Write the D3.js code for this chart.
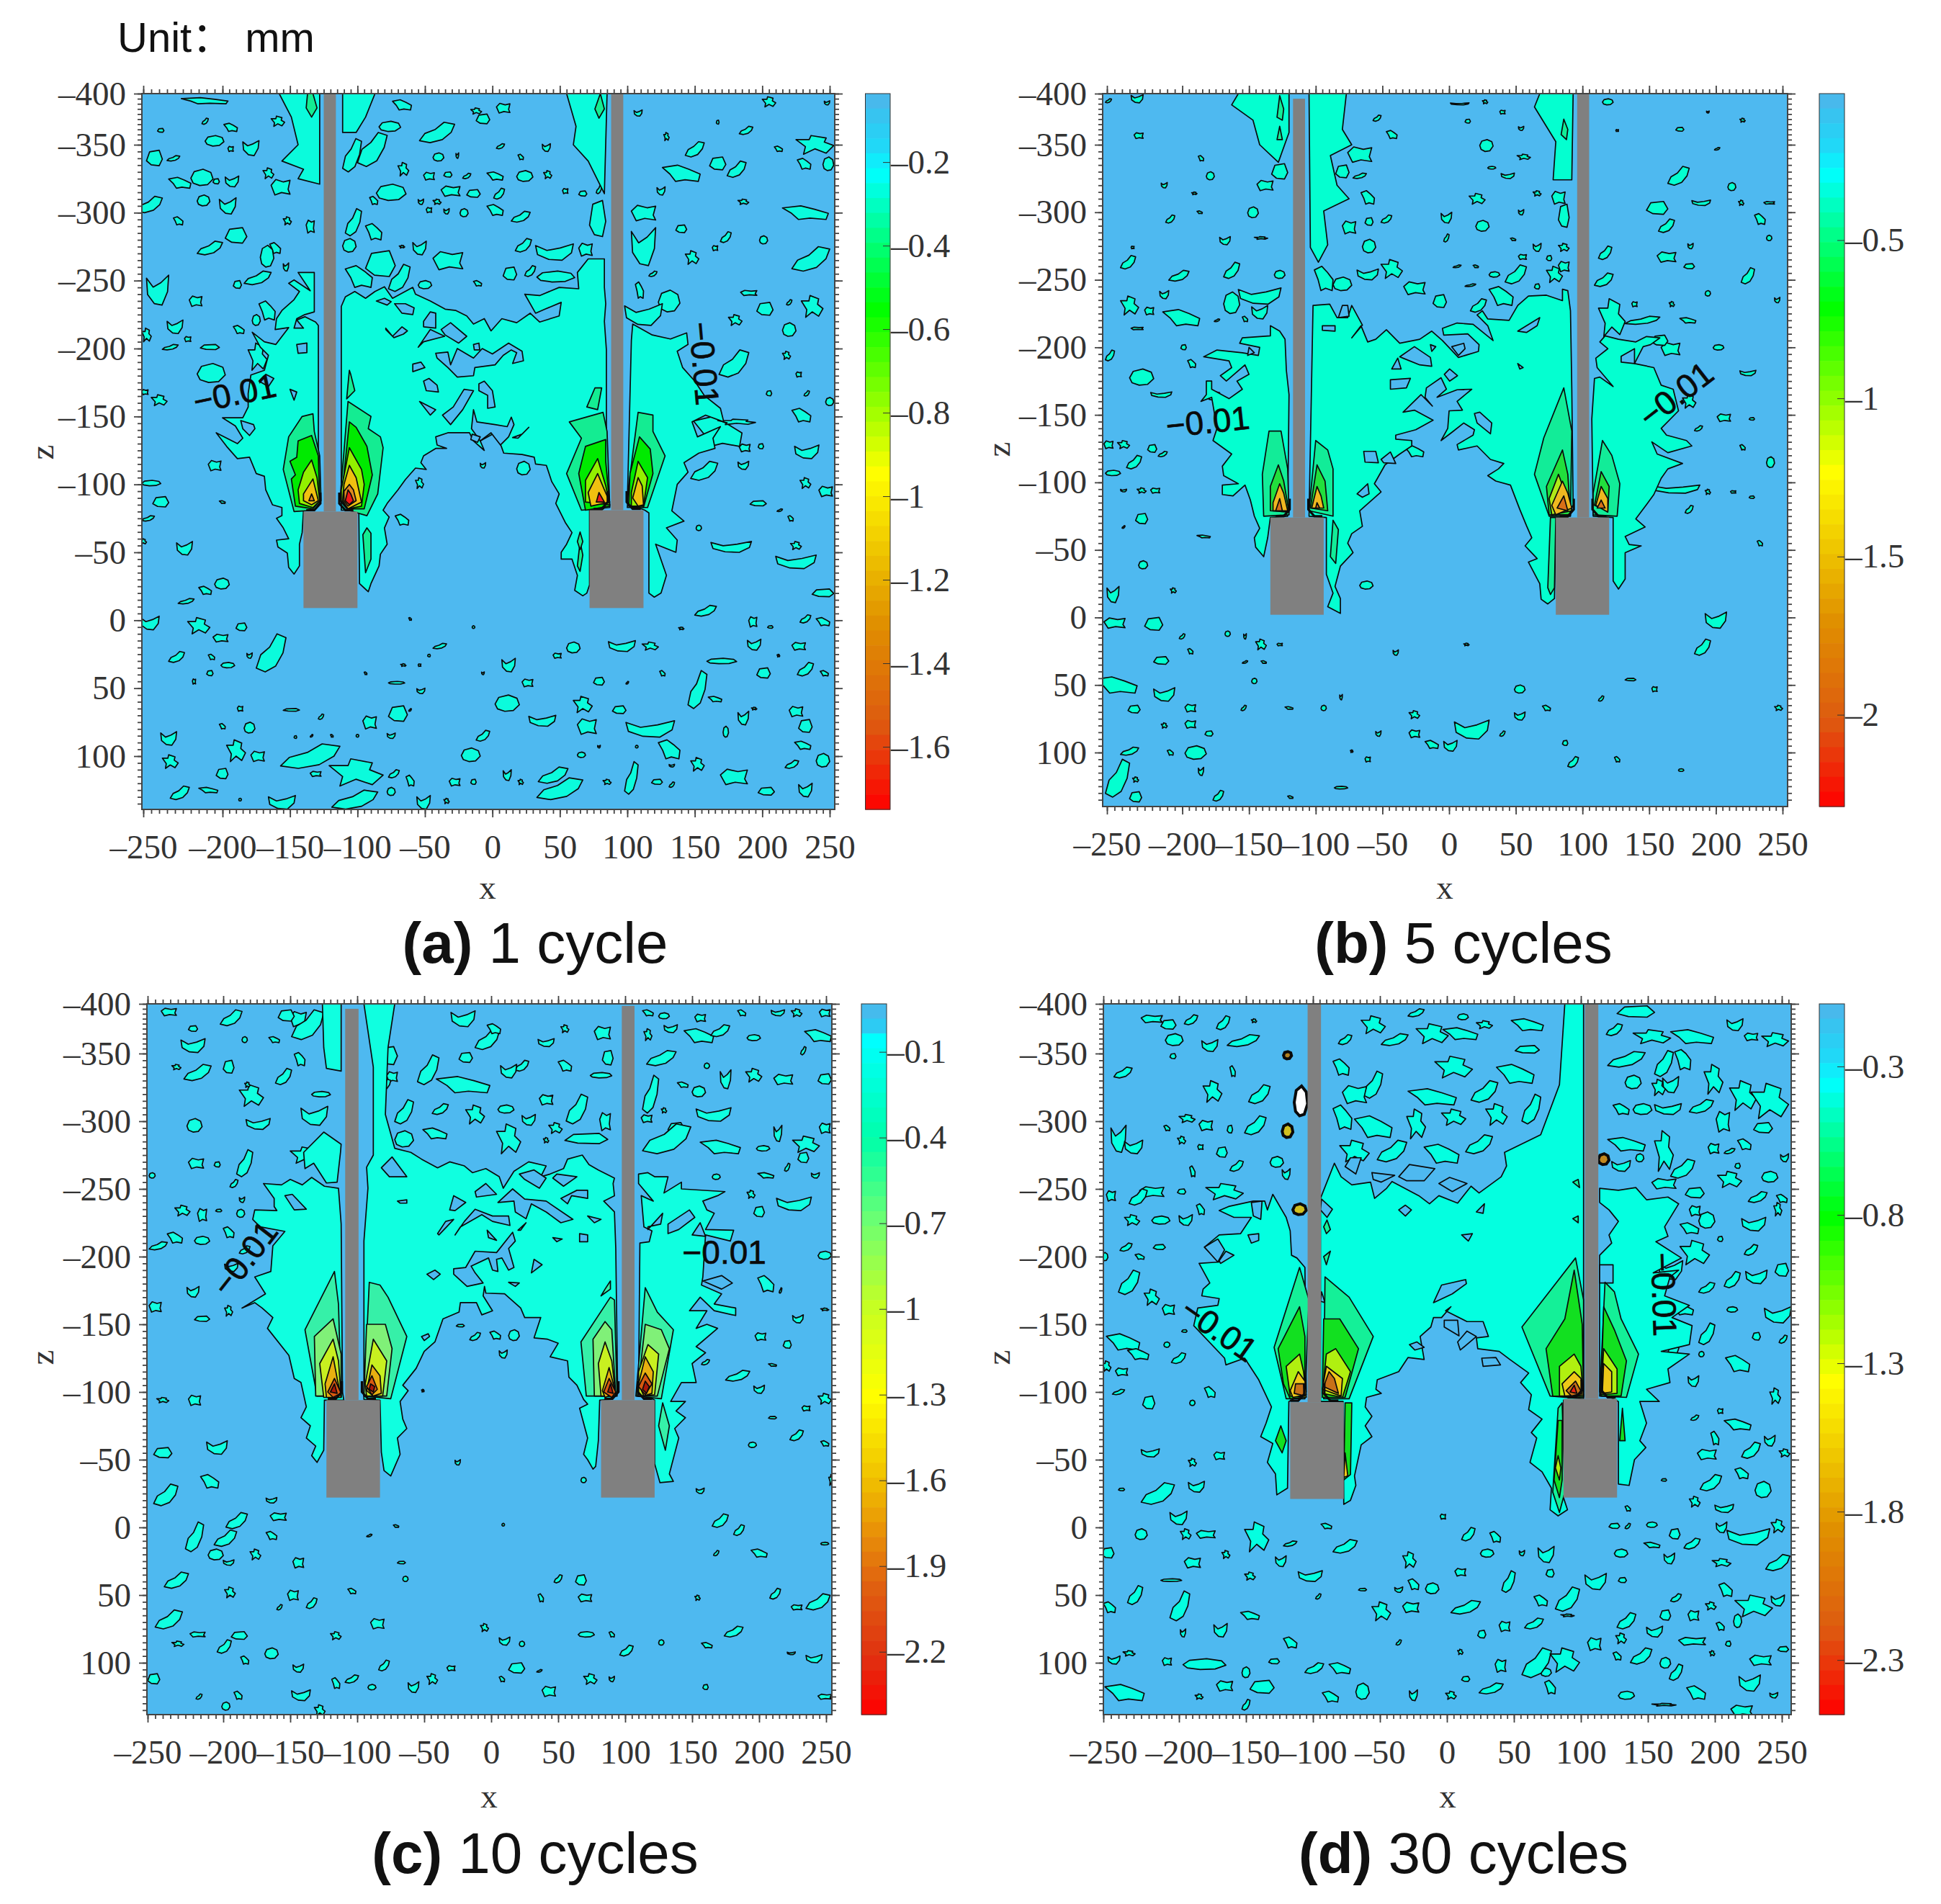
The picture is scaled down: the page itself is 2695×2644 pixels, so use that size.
<!DOCTYPE html>
<html><head><meta charset="utf-8">
<script src="https://cdn.jsdelivr.net/npm/d3@7"></script>
<style>html,body{margin:0;background:#fff}svg{display:block}</style>
</head><body><svg id="c" width="2695" height="2644"></svg>
<script>
const xTicks=[-250,-200,-150,-100,-50,0,50,100,150,200,250];
const zTicks=[-400,-350,-300,-250,-200,-150,-100,-50,0,50,100];
const cbTicksA=[-0.2,-0.4,-0.6,-0.8,-1,-1.2,-1.4,-1.6];
const cbTicksB=[-0.5,-1,-1.5,-2];
const cbTicksC=[-0.1,-0.4,-0.7,-1,-1.3,-1.6,-1.9,-2.2];
const cbTicksD=[-0.3,-0.8,-1.3,-1.8,-2.3];
const captions=[["(a)"," 1 cycle"],["(b)"," 5 cycles"],["(c)"," 10 cycles"],["(d)"," 30 cycles"]];

// gray solids: rod x0,x1,ztop / block x0,x1,ztop,zbottom
const solidsA=[[-125,-116,-400,-140,-100,-80,-9],[88,97,-400,72,112,-81,-9]];
const solidsB=[[-117,-108,-395,-134,-94,-74,-2],[96,105,-400,80,120,-74,-2]];
const solidsC=[[-109,-99,-395,-123,-83,-94,-22],[97.5,107,-398,82,122,-94,-22]];
const solidsD=[[-104,-94,-400,-117,-77,-92.5,-21],[103,113,-400,87,127,-95,-22]];

// first contour level regions (flat x,z lists)
const regionA=[
[-129,-86,-129,-217,-131,-219.5,-139,-223.4,-145,-221,-140,-215,-147,-215,-145,-222,-139,-225,-132,-227,-132,-256,-144,-256,-135,-242.5,-147,-250.5,-151,-248,-143,-242,-147,-236,-156,-228,-160,-222,-161,-214,-151,-215.4,-160.5,-203,-169,-205,-178,-212,-172,-201,-166,-195,-169,-184,-179,-180.5,-181,-167,-181,-157,-185,-149,-200,-149,-190.5,-143,-185,-134,-189,-130,-204,-138,-197,-128,-189,-119,-180,-120,-175,-108,-169,-106,-168,-96,-163,-85,-156,-83,-156,-77,-160,-75,-155,-68,-151,-60,-160,-59,-159,-54,-152,-49.5,-151,-39,-147,-34,-143,-40,-143,-56,-141,-64.5,-140,-81],
[-112,-81,-112,-231,-109,-238,-102,-242,-94,-237,-87,-242,-80,-245.5,-74,-237,-59,-245,-57,-240,-46,-235,-35,-229,-27,-228,-19,-224,-14,-218,-6,-222,-1,-213,7,-222,18,-219,28,-226,35,-219.5,49.5,-224,51,-234,39,-229,32,-226,24,-240,35,-239,49.5,-245,64,-244,63,-256,71,-266,83,-266,83,-245,84,-233,83,-220,84.5,-199,84.5,-142.5,86.6,-86,81,-81,72,-81,72,-26,70,-20,67,-18,61,-22,63,-33,59,-45,51,-45,51,-50,55,-56,59,-64.5,54,-72,47,-86,49.5,-93,44,-102,40,-114,32,-115,31,-120,22,-122,8.4,-123,6.6,-128,2,-138,-9,-132,-6,-125,-14,-132,-17,-138,-33,-138,-42,-135,-41,-129,-34,-126.5,-42,-126.5,-51,-121,-53,-116,-49,-111,-57,-112,-64.5,-103.5,-70,-96,-78,-86,-81,-81,-76.5,-76,-80,-68,-78,-56,-83,-48.6,-84,-40,-90,-27,-92,-21,-98.5,-27,-99,-81],
[100,-86,103,-206,104,-218,118.5,-210,132,-207,144,-211.5,145,-203,137,-198,141,-186,150,-176,157,-165.5,169,-156,171.5,-146,158,-151,148,-146,152,-135,169,-142.5,163.5,-134,165,-126.5,153,-123,142,-116,145,-109,137,-100,133,-80.5,142,-73,129,-68,137,-59,136,-50,121,-56,129,-33,125,-20,120,-17,116,-20,116,-79,113,-81],
[-158,-400,-149,-377,-144,-350,-156,-338,-140,-332,-144,-325,-128,-321,-128,-400],
[-111,-400,-87,-400,-94,-377,-101,-362,-111,-362],
[55,-400,62,-368,60,-350,71,-338,83,-314,85,-400]];
const regionB=[
[-158,-400,-163,-389,-147,-374,-142,-350,-128,-337,-120,-362,-120,-400],
[-105,-400,-77,-400,-80,-365,-73,-350,-89,-342,-84,-320,-75,-310,-94,-301,-91,-276,-98,-263,-104,-274],
[68,-400,64,-387,80,-353,78,-324,92,-324,93,-400],
[-121,-75,-120,-165,-122,-183,-123,-206,-127,-212,-134,-216,-134,-208.5,-155,-207,-157,-203,-142,-200,-143,-194,-155,-196,-174,-198,-184,-193,-165,-190,-163,-185,-171.5,-179,-167,-175,-153,-187,-150,-180,-159,-175,-155,-169,-165,-162,-178,-169,-178,-175,-182,-175,-182,-165,-186,-160,-178,-163,-174,-140,-177,-131,-163,-121,-170,-112,-169,-105,-158,-99,-170,-98,-170,-91,-162,-90,-153,-98,-149,-87,-146,-75,-142,-66,-146,-59,-145,-52,-139,-45,-136,-59,-134,-74],
[-105,-75,-102,-231,-89.5,-232,-84,-222,-76,-222,-73,-231,-65,-216.5,-73,-207,-66,-216,-61,-204,-55,-206,-47,-213,-37,-203,-22,-206,-13,-212,-5,-205,7,-192.5,22,-197,22.5,-202,14,-210,-4,-209,-5,-214,6,-218,18,-217,33,-205,29,-216,21,-224,25,-227,29,-221,45,-220,51.5,-231,59.5,-238,73,-238.6,85,-234.6,85,-243,89,-242,91,-227,92,-169,93,-83.5,89,-74,80,-74,79,-14,74,-10,69,-13.5,68,-25,59.5,-41,66,-43.6,57,-53,62,-59,58,-68,53,-80,46,-98,35,-101,29,-105,37,-110,41,-114,31,-117,21,-127,7,-124,6,-128,18,-135,19,-139,11,-144,2,-137,-6,-131,-1,-140,0,-153,10,-153.5,6,-160,17,-169,6,-168.6,-9,-163,-2,-169,-6,-177.5,-17,-170,-18,-163,-12.5,-156.5,-21,-165,-34.5,-152,-26,-153.5,-12,-146,-25,-139,-40,-135,-40,-132,-28,-131,-28,-127,-37,-121,-48,-113,-56,-99,-51,-93,-67,-79,-65,-67.5,-73,-62,-76,-55,-72,-48,-81.5,-38,-85.5,-23,-81.5,-14,-81.5,-3,-91,-8,-87,-18,-92,-32,-92,-74],
[108,-75,107,-147,109,-177,113,-178,123,-171,111,-185,110,-192,119,-199,113,-204,117,-208.5,127,-206,140,-204,148,-208,158,-207,151,-202,145.5,-200.5,139,-188,153.5,-185,159,-172,168,-169,172,-153,159,-140,163,-135,178,-131,182,-127,164,-122,152,-130,156,-121,175,-114,164,-110,159,-103,153.5,-91,148,-83.5,140,-73,147,-67,132,-60,135,-54,144,-53,132,-48,132,-28.5,127,-21,123,-27,123,-74]];
const regionC=[
[-126,-400,-112,-400,-112,-337,-123,-339,-125,-356],
[-125,-292,-112,-283,-112.5,-277,-115,-255,-123,-254.4,-132.5,-269,-139,-265,-140,-277],
[-111,-100,-112,-224,-114,-250.5,-124.5,-252,-134,-258.5,-141,-253,-150,-257,-156.5,-253,-170,-254,-162,-243,-162,-237,-160,-234,-176.5,-234.5,-178,-227.5,-172.5,-222,-154,-218.6,-163,-208,-164.5,-189,-176.5,-185,-168.5,-172.5,-186,-162,-176.5,-166,-171,-162,-163,-155,-167,-147,-151,-127,-147,-110,-142,-107,-138,-89,-142,-81,-135,-75,-138,-66,-131,-60,-134,-53,-130,-48,-125,-57,-124.5,-94,-110,-94],
[-95,-94.5,-95,-211.5,-92,-250.5,-93,-266,-88,-275,-88,-340,-95,-400,-72,-400,-77,-356,-79,-305,-72,-280,-60,-277,-52,-272,-40,-265.6,-31,-270,-20,-267,-14,-262,-4,-265,6,-259,9,-250.5,17,-263,28,-270,41,-267,37,-259,44,-261,54,-265,57,-272,68,-275,73,-268,80,-264,92,-258,91,-254,92,-245,84,-241,92,-233,93,-206,94.4,-100,89,-94.5,81,-94,80,-64,78,-45,76,-43,72,-50,69,-54,72,-66,66,-88,72,-91,69,-94.5,64,-105,58,-111,57,-123,44,-126,50,-136,42,-139,32,-140,37,-155,25,-155,22,-162,10,-172.5,-4,-173,-5,-178,-6,-171,1,-160,-7,-157,-11,-166,-23,-166,-24,-159,-36,-154,-42,-137,-50,-130,-56,-117.5,-66,-105,-62,-101,-68,-93,-66,-80,-63,-73,-70,-66,-68,-54,-75,-38,-80,-42,-82,-55.5,-83,-94],
[110,-100,111,-210,118,-211,120,-219,114,-222,112,-245,121,-241,110,-254,110,-261,117,-262,122,-259,132,-259,129,-247,142,-255,142,-250,174.5,-248,169,-245,158,-241,161,-234.5,166.5,-232,160,-220,181,-219.5,178.5,-211.5,160,-216,158,-185,157,-179,172,-172.5,166.5,-165,182.5,-162,182.5,-156.5,166.5,-160,156,-170,148,-160,161,-160,153,-147,161,-150,169,-147,153,-133.5,160,-129,150,-121,153,-107,142,-107,134,-93,145,-93,138,-86,145,-81,137,-73,140,-66,133,-39.5,136,-34,126,-33,122,-47,122,-94]];
const regionD=[
[-105,-100,-106,-192,-112,-199,-116,-201,-117,-219,-120,-229,-130,-246,-134,-234.5,-136,-241,-144.5,-241,-163,-237,-170,-234,-159,-229,-146,-229,-154,-217,-170,-216,-181,-207,-170,-196,-185,-195,-177,-180.5,-182,-176,-183,-171,-170,-169,-171,-164,-186,-162,-189,-149,-166,-125,-165,-120,-151,-125,-140.5,-109,-131,-89,-135,-77,-139,-67,-130,-62,-134,-48,-128,-39.5,-127,-24,-119,-29,-118,-93],
[-94.4,-93,-94.4,-243,-84,-269,-79,-259,-71,-253,-57,-255,-54,-243,-45,-250.5,-41,-255.5,-21,-245,-13,-239,-6,-245,8,-239.5,18,-252,24,-247,40.5,-259,44.5,-267,43,-277,70,-290,84,-327,88,-400,102,-400,102,-100,99.5,-94.5,87,-94,87,-22,90,-13,83,-8.5,77,-13,78,-29,71,-41,62,-48,67,-66,63,-70,71,-80,61,-87,63,-98,55,-107,61,-114,47,-124,39,-130,23,-132,22,-140,31,-141,27,-152,15,-152,-1,-160,3,-163,-4,-155,-10,-155,-12,-148,-20,-141,-17,-124,-29,-125.5,-36,-115,-52,-109,-53,-102,-49,-99,-60,-96,-61,-89,-56,-82,-61,-75,-56,-67,-64,-61,-69,-38,-68,-31,-72,-20,-77,-17,-77.5,-93],
[114,-100,114,-201,123,-210,121,-216,128,-226,121,-234.5,114,-240,114,-250.5,128,-249,141,-251,149,-242,165,-244,173,-239,162.5,-222,165,-215,156,-211,175,-199,154,-188,173,-190,166.5,-185,162.5,-171,181,-164,168,-155,183,-149,181,-135,160,-130,181,-128,165,-117,166.5,-107,149,-102,158.5,-93,144,-93,149,-77,144,-64,148.5,-59,140,-50,136,-31,128,-32,128,-93]];

// blue windows inside the first level
const holePolysA=[
[-42,-196.5,-33,-197.4,-31,-188,-26,-200,-14,-193,-7.5,-200,0,-196,12,-204,22,-198,23,-191,15,-189,18,-197,14,-199,8,-195,2,-188,-13,-186,-14,-180,-26,-179,-33,-186,-41,-193],
[-37,-151,-31,-144,-22,-155,-14,-169,-21,-170,-29,-157],
[-59,-188.5,-53,-190,-50,-186,-59,-183],
[-51,-176,-47,-178,-41,-173,-40,-168,-49,-169],
[-10,-174,-6,-176,0,-169,2,-157,-3.5,-156,-3.5,-165.5,-10,-169],
[-54,-161,-42,-155,-46,-151],
[-14,-155,-11.5,-146,2,-144,11,-142.5,14,-149.5,16,-144,12,-135,6,-129,-1,-138,-9,-132,-15.5,-141],
[-145,-203,-137.5,-204,-137.5,-197,-144,-196.5],
[-186.5,-147,-177,-144,-176,-141,-180,-136,-185,-141],
[-51,-220,-46,-227,-42,-226,-42,-215,-51,-216],
[-72.5,-233,-64.5,-233,-58,-230,-59,-225,-67,-226],
[-86,-235,-80,-237,-75,-234.5,-78,-232],
[-79,-215,-74,-209,-67,-216,-63,-213,-66,-210.6,-73,-208,-79,-214],
[-14,-203,-10,-204,-9.4,-199,-13.4,-199],
[22,-137,27,-142,19,-134,15,-134.5],
[-15,-137,-9,-135,-11,-131,-16,-133],
[-55,-201,-46,-214,-35.4,-209,-51,-205],
[-38,-214,-31,-219,-19,-209,-25,-204,-35,-210],
[-168,-181,-162,-178,-166,-172,-173,-176],
[-150,-170,-145,-168,-147,-162]];
const holePolysB=[
[-38.5,-192,-36,-184,-43,-184],
[-37,-193,-26,-200.5,-14,-192.5,-13,-186,-22,-187,-34.5,-192],
[-44,-176,-29,-177,-32,-170,-44,-169],
[-3.6,-180,0.4,-184,6.3,-179,0.4,-175],
[19,-151,21,-144,31,-136,32,-144,23,-152],
[129,-193.4,139,-199,139,-188,129,-189],
[-14,-202,-10,-200.5,-13,-197],
[2,-200.5,11,-203,12,-199,7,-194],
[-64,-123,-55,-123,-53,-114.5,-63,-115],
[-51,-117,-44,-122.5,-40,-114,-49,-114.5],
[-69,-91.5,-61,-99,-60,-91.5,-65,-89],
[-80,-231,-76,-231,-75,-223,-83,-222],
[-95,-216,-85.5,-216,-85.5,-212,-95,-212.6],
[51.5,-212,68,-222,66,-216,58,-211],
[51.5,-188,55.5,-185,53,-184],
[-150,-200,-146,-196,-151,-194]];
const holePolysC=[
[-82,-265.6,-76,-259,-63,-259,-74,-273.6],
[-154,-245,-148.5,-246,-138,-235,-147,-234.5],
[-12,-235,1,-230,13,-230,14,-223,1,-226,-7,-231,-23,-222,-27,-216,-20,-226],
[-28,-245,-19,-240,-27,-234,-31,-234.5],
[-4,-254,4,-246,-11,-244,-12,-248],
[5,-240,16,-250,25,-242.5,41,-241,61,-227.5,52,-225,41,-233,30,-239,26,-228,18,-233,17,-241],
[21,-261,32,-264,41,-258,36,-250.5,25,-257],
[52,-243,64,-249,72,-249,72,-243,60,-245,57,-239],
[49,-261,64,-259,54,-252,46,-258],
[-12,-204,4,-203,16,-218,18,-211.5,13,-206,17,-192,13,-190,8,-199,4,-198,5,-189,1,-190,-2,-199,-15,-193,-12,-188,-6,-180.5,-18,-178,-28,-187,-28,-191,-19,-192],
[-48,-187,-42,-190,-38,-187,-43,-183],
[-34,-226,-28,-227.5,-39,-216,-40,-217],
[117,-220,128,-232,126.5,-224,117,-222],
[132,-224,148,-234.5,152,-229,140,-220,132,-217],
[150,-216,156,-225,160,-215],
[158,-182,172,-186,180,-180.5,172,-176],
[-52,-141,-47,-143,-46,-141,-50,-138],
[-70,-241,-63,-242,-63,-239.5,-68,-239.5],
[32,-198,38,-194,30,-188],
[66,-217,72,-216,72,-211,66,-211],
[46,-214,53,-213,49,-211],
[-3,-219.5,4,-212,-2,-214],
[20,-219.5,26,-225,22,-219.5],
[72,-230,82,-227.5,77,-225],
[13,-181,21,-180.5,18,-178]];
const holePolysD=[
[114,-194,124,-194,124,-180.5,114,-180.5],
[-4,-179,14,-183,14.5,-180,4,-172.5,-10,-166],
[-2,-153,8,-153,9,-141.5,-2,-148],
[8,-137,15,-145,22,-141,10,-131],
[26,-125,36.5,-125.5,40,-120,27,-119],
[-28,-135,-22.5,-137,-17,-133,-24,-131],
[-36,-234.5,-31,-238,-26.5,-234.5,-31,-230],
[22,-233,28,-239,27,-232],
[11,-216,19,-217,16,-211.5],
[-181,-207,-171,-213,-166,-205,-171,-196],
[-170,-197,-165,-204,-159,-201,-169,-195],
[-148.5,-216,-140.5,-217,-140.5,-212,-146,-210],
[-146,-240,-138,-241,-139,-227.5,-144.5,-230],
[-93.6,-242.5,-85.5,-235,-89.5,-229,-94.4,-234.5],
[-93.6,-174,-91,-166,-94.4,-167],
[-56,-262,-39,-260,-49,-255,-55,-257],
[-36,-259,-28,-268,-9,-265,-17,-256,-30,-256],
[-6,-254,2,-258.5,15,-254,4,-248],
[-76,-266.5,-72,-273,-64,-273,-68,-261]];

// flames: [level, flat x,z list]
const flamesA=[
[1,[-133,-152,-141,-150,-151,-135,-155,-111,-147,-80,-132,-81,-127,-88,-128,-121,-132,-139]],
[2,[-134,-136,-144,-132,-145,-120,-150,-117,-146,-107,-149,-104,-146,-84,-133,-82,-128,-88,-129,-121]],
[3,[-134,-118,-140,-109,-144,-96,-143,-86,-133,-83,-128,-88,-130,-105]],
[4,[-133,-104,-140,-93,-140,-88,-134,-85,-129,-88,-131,-96]],
[5,[-134,-93,-136,-88,-132,-88]],
[1,[-106,-184,-108,-163,-102,-169,-105,-181]],
[1,[-107,-161,-113,-88,-107,-81,-93,-77,-85,-93,-81,-127,-83,-135,-92,-141,-90,-150]],
[2,[-106,-146,-112,-88,-107,-82,-95,-82,-89,-107,-93,-128,-101,-142]],
[3,[-106,-127,-112,-96,-112,-88,-107,-82,-97,-84,-95,-100,-97,-111]],
[4,[-106,-114,-110,-100,-111,-88,-107,-82,-97,-87,-101,-105]],
[5,[-106,-100,-110,-95,-110,-88,-107,-84,-101,-88,-103,-96]],
[6,[-107,-96,-109,-88,-106,-85,-103,-88,-105,-93]],
[1,[-93,-68,-96,-63,-94,-35,-90,-45,-90,-64]],
[1,[-133,-400,-137,-400,-138,-386,-134,-377,-130,-386]],
[1,[80,-400,76,-385,79,-376,83,-385]],
[1,[76,-171,70,-157,78,-155,81,-171]],
[1,[82,-153,57,-146,66,-134,55,-108,66,-81,87,-83,85,-139]],
[2,[84,-133,69,-128,64,-108,69,-81,87,-84,84,-117]],
[3,[78,-119,69,-103,69,-87,87,-85,84,-99]],
[4,[78,-108,71,-94,73,-84,87,-87,83,-96]],
[6,[79,-94,77,-87,83,-87]],
[1,[108,-153,101,-99,100,-83,115,-83,128,-121,119,-139,119,-151]],
[2,[109,-135,102,-108,101,-84,112,-83,119,-108,117,-126]],
[3,[108,-117,103,-94,103,-84,112,-84,115,-105]],
[4,[108,-105,104,-90,108,-84,112,-85,111,-99]],
[1,[65,-58,63,-40,65,-36,67,-48]],
[1,[65,-65,63,-58,65,-52,67,-58]]];
const flamesB=[
[1,[-135,-138,-140,-106,-139,-75,-120,-76,-121,-110,-126,-138]],
[2,[-128,-113,-134,-97,-134,-79,-120,-78,-124,-101]],
[4,[-127,-99,-132,-85,-132,-79,-121,-79,-124,-92]],
[5,[-127,-88,-130,-79,-125,-79]],
[1,[-100,-131,-105,-79,-87,-75,-87,-110,-91,-124]],
[2,[-99,-113,-104,-81,-91,-79,-93,-101]],
[4,[-99,-97,-103,-81,-94,-81,-96,-90]],
[5,[-99,-85,-100,-81,-97,-81]],
[1,[86,-170,71,-133,64,-106,75,-75,91,-75,92,-138]],
[2,[85,-124,73,-97,75,-76,91,-76,89,-106]],
[3,[82,-106,75,-88,77,-76,92,-79]],
[4,[85,-101,77,-83,80,-76,92,-81,89,-92]],
[5,[86,-90,81,-81,89,-79]],
[1,[115,-131,108,-92,108,-76,126,-75,128,-99,122,-120]],
[2,[114,-108,109,-83,119,-79,120,-97]],
[4,[114,-97,110,-83,119,-78,119,-88]],
[5,[114,-87,111,-81,117,-81]],
[1,[-87,-72,-89,-45,-85,-40,-83,-65]],
[1,[76,-74,74,-22,76,-17,79,-22,80,-74]],
[1,[-127,-398,-129,-377,-125,-374,-124,-385]],
[1,[-127,-368,-129,-355,-125,-355]],
[1,[86,-375,84,-360,88,-355,89,-365]]];
const flamesC=[
[1,[-117,-189,-139,-146,-130,-97,-112,-97,-114,-165]],
[2,[-118,-154,-132,-141,-131,-97,-112,-97,-112,-128]],
[3,[-118,-139,-128,-121,-125,-96,-112,-96,-114,-123]],
[4,[-118,-126,-124,-106,-123,-96,-112,-96,-115,-110]],
[5,[-117,-110,-122,-100,-118,-96,-112,-99]],
[6,[-117,-106,-120,-100,-115,-99]],
[1,[-91,-181,-95,-97,-75,-95,-63,-141,-77,-170,-83,-179]],
[2,[-93,-150,-95,-97,-78,-97,-74,-132,-79,-150]],
[3,[-88,-139,-94,-106,-93,-97,-81,-97,-78,-123]],
[4,[-89,-120,-93,-101,-88,-97,-82,-99,-83,-112]],
[5,[-89,-112,-93,-104,-89,-98,-85,-102]],
[6,[-90,-106,-91,-102,-88,-100,-87,-104]],
[1,[89,-170,67,-137,71,-97,94,-97,92,-168]],
[2,[85,-152,76,-139,77,-97,93,-97,90,-146]],
[3,[85,-137,80,-121,82,-97,93,-97,90,-123]],
[4,[88,-118,83,-101,85,-96,93,-99]],
[5,[88,-110,84,-100,90,-96,93,-100]],
[6,[89,-106,87,-100,91,-99]],
[1,[115,-177,108,-97,127,-95,136,-146,124,-159]],
[2,[115,-150,109,-97,124,-97,133,-132,127,-146]],
[3,[117,-135,110,-115,110,-97,122,-98,125,-128]],
[4,[115,-126,110,-106,114,-97,120,-99,121,-115]],
[5,[115,-114,110,-104,115,-98,120,-106]],
[6,[115,-108,113,-102,116,-99,118,-104]],
[1,[128,-92,125,-75,130,-57,133,-75]],
[1,[85,-176,89,-182,89,-176,82,-171]]];
const flamesD=[
[1,[-110,-192,-129,-133,-120,-95,-106,-95,-103,-168]],
[2,[-110,-163,-126,-132,-122,-106,-117,-95,-106,-96,-106,-141]],
[3,[-110,-128,-120,-119,-117,-97,-105,-96,-107,-115]],
[4,[-111,-115,-117,-101,-115,-96,-105,-98,-106,-108]],
[5,[-113,-106,-114,-99,-106,-97,-107,-106]],
[1,[-91,-185,-92,-95,-73,-95,-55,-141,-73,-170]],
[2,[-92,-154,-93,-96,-76,-96,-66,-132,-80,-154]],
[3,[-90,-128,-93,-99,-78,-96,-72,-115,-83,-132]],
[4,[-90,-119,-93,-102,-79,-97,-78,-110]],
[5,[-88,-115,-92,-104,-81,-99,-84,-110]],
[2,[-124,-75,-128,-64,-123,-55,-120,-64]],
[2,[-76,-92,-77,-35,-72,-39,-71,-92]],
[4,[-76,-55,-77,-37,-74,-38]],
[1,[96,-199,56,-148,77,-97,102,-95,102,-168]],
[2,[95,-190,88,-154,74,-132,79,-97,102,-96,101,-150]],
[3,[95,-128,84,-119,84,-97,102,-97,100,-119]],
[4,[95,-115,86,-106,88,-97,102,-98,100,-110]],
[5,[96,-108,89,-101,93,-97,101,-99]],
[6,[95,-105,92,-100,97,-99]],
[1,[118,-181,114,-97,134,-96,143,-128,130,-154,125,-174]],
[2,[117,-163,115,-97,130,-97,134,-123,125,-146]],
[3,[117,-132,115,-98,127,-99,127,-117]],
[4,[117,-121,116,-99,123,-100,123,-115]],
[1,[83,-88,79,-26,84,-11,88,-26,86,-92]],
[2,[83,-79,80,-35,84,-22,86,-35,86,-79]],
[3,[83,-53,81,-44,84,-35,85,-44]],
[2,[131,-88,129,-64,133,-64]],
[1,[-92,-222,-89.5,-227,-87,-220,-90,-217]],
[1,[-92,-200,-87,-204,-90,-194]],
[1,[94,-255,98,-257,99,-251]],
[1,[94,-228,98,-230,98,-225]]];

// speckles: [x, z, half width, half height, optional outline index]
const specklesA=[[-211,-393,15,3,3],[-239,-364,2,2],[-211,-373,2,3],[-194,-367,5,4],[-205,-354,6,5],[-179,-348,6,6,5],[-159,-373,5,5],[-194,-347,2,2],[-243,-340,5,6],[-231,-340,4,2],[-227,-322,7,4],[-213,-326,7,6],[-193,-323,5,4],[-166,-329,4,4],[-157,-319,7,6],[-204,-323,2,2],[-246,-306,8,6],[-228,-294,3,3],[-212,-309,4,4],[-196,-305,6,6],[-152,-294,3,3],[-135,-290,3,5],[-190,-283,8,6],[-208,-274,8,5],[-161,-274,4,4],[-167,-268,5,8],[-153,-260,2,3],[-241,-243,7,11,5],[-217,-235,4,4],[-189,-247,3,3],[-174,-252,10,5],[-167,-228,6,7],[-175,-221,3,4],[-230,-216,5,5],[-248,-210,3,5],[-222,-207,2,2],[-208,-201,6,2],[-233,-201,5,2],[-188,-214,4,3],[-207,-182,9,7],[-174,-194,7,10,6],[-240,-162,5,4],[-249,-168,2,2],
[-89,-348,11,14,2],[-104,-343,7,13],[-67,-389,7,5],[-76,-368,8,5],[-41,-362,13,10,2],[-12,-383,4,3],[8,-386,5,5],[-7,-375,5,5],[6,-349,3,2],[21,-341,2,2],[-40,-341,4,3],[-26,-342,1,2],[-66,-332,4,5],[-47,-327,4,3],[-33,-328,3,2],[-19,-327,3,2],[2,-327,6,3],[24,-327,6,4],[40,-348,3,3],[41,-328,3,3],[54,-316,2,2],[67,-314,3,2],[79,-317,2,3],[-88,-309,3,3],[-75,-315,11,6],[-53,-308,2,2],[-41,-308,3,2],[-31,-316,7,4],[-14,-314,5,3],[5,-314,4,4],[2,-302,6,4],[-21,-300,3,3],[-34,-301,2,2],[21,-297,7,4,2],[-47,-302,2,2],[78,-295,6,14],[-103,-293,6,10],[-88,-286,6,6],[-106,-276,5,5],[-54,-274,5,5],[-67,-275,2,1],[-33,-265,11,7],[-83,-262,11,10],[-69,-252,8,10],[-99,-253,10,8],[-50,-247,5,3],[23,-276,6,5,2],[46,-271,14,6,5],[69,-273,5,5],[13,-255,5,5],[28,-257,4,4],[-11,-248,3,2],[47,-253,14,4],
[108,-381,3,3],[129,-358,2,4],[150,-347,7,6,2],[167,-372,1,2],[188,-364,5,4],[212,-347,3,2],[239,-351,14,8,6],[248,-391,2,2],[205,-392,5,5],[140,-329,14,6,3],[167,-336,6,5],[181,-332,7,6],[231,-336,5,4],[249,-336,4,5],[125,-316,3,3],[186,-308,4,2],[112,-300,9,6],[140,-288,4,3],[173,-282,4,4],[232,-300,17,5,3],[201,-280,3,3],[112,-275,9,14],[148,-267,5,5],[165,-274,2,2],[236,-266,14,9,2],[119,-255,3,2],[109,-243,3,6],[131,-235,8,8],[112,-225,14,8],[180,-221,5,4],[190,-241,6,2],[202,-229,6,5],[220,-234,2,2],[237,-231,8,8,6],[220,-214,5,5],[179,-189,11,10,2],[218,-195,3,3],[227,-181,2,2],[205,-167,2,2],[233,-167,2,2],[229,-151,7,5],[250,-161,3,3],[167,-139,18,11,3],[181,-146,14,2],[187,-127,4,3],[199,-128,2,2],[233,-124,9,5,5],[140,-120,3,3],[157,-110,10,7,2],[186,-114,4,3],[232,-101,4,4],[247,-95,5,4],[197,-86,6,2],[213,-81,2,1],[221,-75,2,2],[153,-68,2,2],[177,-54,15,4],[225,-55,4,3],[225,-43,15,5,5],[245,-20,8,3],[158,-7,8,4],
[-67,-74,5,4],[23,-112,5,5],[-7,-114,2,2],[-54,-101,3,4],[-205,-114,4,4],[-239,-87,5,4],[-247,-75,4,2],[-200,-87,2,1],[-245,-101,6,2],
[-246,2,6,5],[-215,4,7,6],[-201,13,5,3],[-186,5,4,3],[-229,27,5,4],[-207,27,2,2],[-196,33,5,2],[-180,26,2,2],[-164,24,11,14,2],[-218,45,1,2],[-208,39,2,2],[-223,-14,5,2],[-211,-22,4,3],[-200,-27,5,4],[-224,-53,5,5],[-250,-58,2,2],[-187,65,2,2],[-149,66,6,1],[-127,71,2,2],[-200,78,2,2],[-180,79,4,4],[-234,87,5,5],[-190,96,7,8],[-174,100,5,4],[-146,86,1,1],[-134,85,1,1],[-119,85,1,1],[-100,85,1,1],[-75,85,3,2],[-233,104,5,5],[-135,100,22,9,2],[-200,113,4,4],[-227,127,6,5],[-209,125,6,2],[-187,132,1,1],[-156,134,10,5],[-101,112,20,10,6],[-131,113,4,2],[-102,132,17,7,2],[-73,113,4,3],[-61,118,3,4],[-75,126,3,3],[-51,134,5,5],[-34,133,2,2],[-91,75,5,5],[-70,69,7,6],[-61,66,1,1],[-94,39,1,1],[-71,46,6,1],[-53,52,3,2],[-66,33,2,1],[-54,33,1,1],[-47,26,1,1],[-39,19,5,2],[-61,-1,1,1],[-14,5,1,1],[-7,39,1,1],[12,33,5,5,5],[26,46,4,3],[79,45,4,3],[100,46,1,1],[126,39,2,2],[11,61,9,6],[37,74,10,4,5],[67,62,7,6],[70,78,7,6],[94,66,5,3],[-7,85,5,4],[117,80,18,6,5],[173,82,2,4],[186,72,4,5],[194,65,2,1],[225,67,5,4],[232,78,5,5],[152,51,7,14,2],[165,58,5,2],[-16,99,7,5],[11,114,3,4],[21,119,2,2],[-28,119,4,3],[-14,119,2,2],[45,114,11,6],[50,124,17,8,2],[66,99,3,2],[79,93,1,1],[85,119,3,2],[103,116,5,12,2],[122,119,4,2],[133,121,2,2],[131,95,8,7],[107,93,1,1],[133,107,2,1],[152,106,5,5],[179,115,10,6],[203,126,6,3],[222,106,5,3],[230,92,6,3],[245,103,5,5],[232,125,5,5],[140,6,2,1],[193,1,3,4],[206,5,2,1],[232,-1,4,3],[245,1,5,3],[170,30,11,2],[194,18,5,4],[212,26,1,1],[227,19,5,3],[201,39,5,4],[232,36,6,5],[246,39,3,2],[60,20,5,4],[96,19,10,4,5],[117,19,6,3],[48,26,3,2]];

const specklesB=[[-229,-359,3,3],[-230,-395,4,4,5],[-249,-393,2,2],[-186,-340,2,2],[-179,-327,3,3],[-212,-320,2,2],[-191,-314,2,1],[-138,-320,6,4],[-127,-330,6,6],[-208,-295,3,3],[-187,-300,2,1],[-147,-300,4,4],[-168,-279,4,3],[-141,-281,5,1],[-233,-274,1,1],[-236,-263,5,5,2],[-202,-253,7,4],[-163,-257,6,6,2],[-127,-254,4,3],[-212,-239,3,3],[-235,-231,6,7],[-222,-227,3,3],[-200,-222,13,6,3],[-174,-220,2,1],[-153,-221,2,2],[-163,-233,6,8],[-142,-226,6,5],[-142,-238,16,6,5],[-230,-214,4,1],[-199,-200,2,2],[-248,-194,3,4],[-193,-188,3,3],[-227,-178,8,6],[-214,-165,7,2],[-239,-128,4,3],[-249,-128,3,3],[-220,-125,3,3],[-213,-121,3,2],[-232,-115,5,5,2],[-246,-107,5,2],[-239,-94,2,1],[-227,-94,3,2],[-218,-94,3,2],[-227,-73,4,4],[-239,-67,1,1],[-184,-60,5,1],[-226,-39,3,3],[-246,-17,4,6],[-206,-20,2,2],[-245,4,7,4],[-219,5,6,5],[-200,14,2,2],[-194,25,2,2],[-166,12,2,2],[-153,14,1,2],[-141,20,4,4],[-127,20,2,1],[-214,32,5,3],[-153,33,2,1],[-139,33,2,1],[-146,47,2,2],[-244,50,14,6,3],[-212,57,7,5,5],[-194,67,4,3],[-232,68,4,3],[-154,67,2,2],[-120,67,3,1],[-94,67,2,2],[-81,59,1,2],[-212,80,2,2],[-194,79,4,3],[-180,86,3,2],[-235,99,6,3],[-208,100,2,2],[-190,100,8,5],[-186,114,2,3],[-231,120,2,2],[-243,119,8,14,2],[-231,133,4,4],[-173,132,4,4],[-119,133,2,1],[-81,126,5,1],
[8,-390,7,1],[27,-392,2,2],[40,-382,2,2],[14,-373,2,2],[-54,-376,3,3],[-43,-360,4,4],[28,-350,5,5],[54,-366,2,2],[56,-341,5,2],[-67,-343,9,6],[-80,-330,5,5],[-67,-327,5,2],[-61,-311,5,5],[32,-333,3,1],[44,-327,5,2],[21,-310,6,4],[-75,-289,5,5],[-60,-293,3,3],[-47,-295,4,3],[-2,-296,4,4,5],[25,-290,5,4],[54,-300,2,2],[66,-314,3,2],[82,-311,5,5],[86,-297,4,9],[-2,-281,2,3],[48,-280,2,1],[-60,-275,5,5],[66,-274,3,3],[86,-274,4,3],[55,-267,3,2],[75,-266,2,2],[6,-260,3,1],[20,-260,2,1],[34,-254,4,2],[50,-254,8,7,2],[79,-254,6,6],[86,-260,4,4],[66,-245,2,2],[16,-246,4,1],[-94,-251,7,9],[-80,-247,7,5],[-61,-254,8,4],[-43,-258,8,7],[-26,-244,8,5],[-7,-234,5,5],[22,-231,6,5],[39,-238,9,7],
[119,-392,4,3],[194,-382,1,1],[220,-374,2,2],[126,-364,1,1],[173,-365,3,2],[201,-347,2,1],[172,-327,8,7,2],[212,-319,3,3],[189,-307,7,2],[219,-307,2,2],[240,-307,4,1],[156,-303,8,5],[163,-290,6,5,2],[233,-295,4,4],[240,-281,2,2],[181,-275,2,2],[117,-270,5,5,2],[163,-267,7,4],[180,-260,4,2],[116,-250,7,5],[224,-253,5,6,2],[194,-240,2,2],[246,-235,2,2],[167,-232,2,2],[139,-232,2,2],[122,-222,10,14,6],[145,-220,13,3],[179,-220,6,2],[202,-200,4,2],[224,-181,6,2],[180,-160,5,5],[206,-148,5,3],[227,-147,2,1],[187,-140,3,2],[220,-126,2,2],[241,-115,3,4],[170,-95,18,3],[194,-93,2,2],[213,-93,2,1],[227,-89,2,1],[180,-80,3,3],[233,-55,2,2],[200,2,8,6,5],[190,22,6,6,2],[247,67,3,2],[154,53,2,2],[136,46,4,1],[114,60,2,2],[73,67,3,2],[53,53,4,3],[53,73,4,3],[-26,72,4,3],[-26,86,4,3],[17,83,13,7,5],[40,86,2,2],[-13,94,5,3],[1,95,5,4,5],[-53,86,2,2],[-73,99,1,1],[-61,105,2,2],[87,93,2,2],[93,107,4,4],[126,105,2,2],[174,113,2,1],[-40,26,2,2],[13,20,2,1],[166,-199,7,5],[158,-205,6,4],[-176,-164,4,3],[-26,-123,7,4],[-62,-24,5,3]];

const specklesC=[[-236,-392,5,4],[-220,-375,3,3],[-194,-386,8,8,2],[-162,-364,4,3],[-184,-364,2,3],[-220,-358,8,7],[-231,-340,3,2],[-217,-336,9,6,2],[-196,-340,4,5],[-155,-333,6,6],[-179,-319,9,8,6],[-219,-297,5,5],[-174,-298,9,4],[-182,-327,2,2],[-144,-385,6,8],[-153,-388,6,6],[-137,-379,12,15,2],[-143,-346,4,5],[-127,-320,7,2],[-132,-304,10,7],[-139,-275,11,6],[-218,-269,5,4],[-204,-268,2,2],[-192,-254,3,3],[-184,-269,6,10,2],[-247,-260,2,2],[-186,-242,2,2],[-227,-234,5,4],[-214,-231,3,5],[-203,-234,2,1],[-243,-208,6,3],[-232,-214,5,4],[-214,-212,5,3],[-220,-174,4,4],[-196,-160,3,4],[-245,-163,4,4],[-214,-154,5,2],[-184,-205,4,3],[-196,-218,4,4],[-187,-232,3,3],[-194,-192,5,3],[-240,-94,4,2],[-219,-94,4,4],[-240,-55,6,4],[-204,-59,7,5,5],[-209,-34,6,5],[-238,-24,8,8,2],[-164,-20,4,2],[-190,-5,8,6,2],[-159,-8,6,3],[-219,7,6,11,2],[-198,8,8,6],[-164,6,4,3],[-205,20,5,4],[-196,26,4,2],[-176,20,4,4],[-144,26,4,4],[-67,26,3,1],[-91,6,2,1],[-71,-1,2,1],[9,-2,1,1],[-231,39,8,6,2],[-195,48,4,4],[-148,50,4,4],[-134,56,4,4,2],[-158,59,2,2],[-104,47,3,2],[-64,38,2,2],[-236,68,9,7,2],[-230,86,4,2],[-217,79,5,2],[-188,80,6,3],[-199,88,5,5,2],[-184,98,3,3],[-164,93,5,4],[-144,104,4,3],[-116,80,4,3],[-85,71,5,4],[-80,102,4,4,2],[-104,112,5,3],[-116,115,3,4],[-89,118,3,2],[-58,118,4,4],[-44,112,4,4],[-30,104,3,2],[-246,112,4,4],[-216,125,2,2],[-189,124,3,3],[-198,132,3,3],[-142,124,7,4],[-128,135,4,4],
[-47,-338,8,11,2],[-19,-347,5,4],[-3,-364,9,10],[2,-375,5,5],[-21,-385,9,8,5],[41,-361,6,4],[55,-375,3,4],[83,-371,6,7],[87,-347,4,6],[23,-341,5,4],[55,-341,5,4],[82,-334,8,2],[13,-337,6,5],[-21,-327,20,6,3],[41,-316,5,4],[64,-309,8,11,2],[-38,-309,6,4],[-12,-305,7,7,6],[11,-309,6,3],[28,-301,5,4],[48,-295,5,4],[85,-300,4,7],[71,-287,16,4],[-65,-307,7,9],[-42,-291,9,4],[-65,-287,7,6],[13,-287,9,11,6],[41,-286,2,2],[-74,-333,4,4],[-77,-349,7,8],[-79,-327,4,4],
[117,-391,4,3],[129,-388,4,3],[134,-375,5,4],[117,-369,3,6],[156,-386,4,4],[155,-368,11,7,3],[171,-373,7,6],[187,-391,3,3],[196,-366,5,3],[214,-391,5,3],[228,-391,4,4],[249,-391,4,4],[244,-368,10,6,3],[233,-353,2,4],[127,-347,11,6,2],[161,-341,2,2],[175,-331,4,7],[196,-334,6,5],[218,-331,7,4],[249,-331,5,4],[119,-320,6,14],[143,-327,4,2],[155,-322,5,4],[166,-305,13,5,5],[129,-308,2,2],[116,-302,4,3],[138,-295,6,4],[131,-287,18,11,2],[171,-281,15,5,3],[203,-280,5,2],[214,-291,3,6],[235,-283,10,6],[249,-295,4,4],[233,-273,4,4],[221,-266,2,3],[205,-260,6,2],[168,-259,3,2],[242,-260,3,2],[194,-246,3,3],[226,-239,13,5,5],[200,-233,4,4],[216,-175,1,2],[205,-180,6,6],[249,-201,5,3],[229,-154,4,3],[249,-161,3,1],[201,-141,4,3],[221,-135,3,3],[160,-122,3,2],[210,-120,3,1],[184,-112,9,4,2],[200,-102,4,3],[249,-95,5,4],[235,-88,3,2],[210,-81,3,1],[228,-68,5,4],[249,-62,3,2],[195,-61,3,2],[156,-27,3,2],[254,-35,2,4],[171,-5,6,5,2],[185,2,4,4,2],[168,19,2,2],[200,19,6,3],[249,12,3,1],[212,49,4,4,2],[154,52,2,2],[228,59,4,2],[244,55,9,6,2],[181,77,7,4,2],[161,87,4,2],[127,85,2,2],[224,93,3,1],[241,97,6,3,5],[249,125,5,2],[160,118,2,2],[101,91,5,4],[90,79,2,2],[71,79,6,2],[90,112,2,2],[74,112,5,4],[43,121,5,4],[19,104,6,4],[36,106,2,1],[8,112,2,2],[23,86,2,2],[10,84,4,3],[-5,74,3,3],[70,52,5,3],[67,39,4,4],[50,38,3,3],[37,52,2,3],[69,-35,2,2],[-25,-48,2,2],[-51,-101,1,1],[-50,-140,4,3],[-23,-149,3,1],[-12,-141,4,3],[3,-142,4,3],[17,-142,4,4],[9,-128,3,3],[41,-145,4,4],[54,-132,3,4]];

const specklesD=[[-218,-385,7,4],[-207,-379,5,5],[-191,-384,5,5],[-167,-381,5,7,2],[-203,-364,6,6],[-177,-358,6,6],[-144,-383,2,2],[-152,-363,12,6,2],[-204,-348,2,2],[-237,-336,6,4],[-160,-337,2,4],[-175,-322,7,8,6],[-140,-320,8,7,2],[-194,-302,6,3],[-180,-297,5,4],[-162,-294,2,3],[-143,-297,8,7,2],[-208,-295,2,2],[-240,-287,5,10,5],[-230,-281,6,5],[-198,-286,3,3],[-184,-281,2,2],[-168,-277,4,4],[-157,-267,5,4],[-190,-263,2,4],[-127,-270,5,4],[-120,-261,3,4],[-166,-248,14,6],[-218,-248,8,4],[-198,-248,3,2],[-227,-244,6,6],[-184,-235,3,4],[-212,-227,6,3],[-195,-227,5,4],[-231,-227,5,4],[-245,-245,3,4],[-213,-207,4,2],[-235,-207,4,3],[-226,-200,3,2],[-249,-200,2,3],[-233,-181,7,9,2],[-218,-170,5,6],[-207,-161,4,4],[-196,-145,2,1],[-237,-137,11,6,3],[-227,-128,7,4],[-208,-135,2,2],[-200,-125,5,4,2],[-248,-119,3,4],[-238,-115,4,3],[-220,-92,4,5],[-240,-100,4,2],[-177,-100,4,4],[-190,-92,2,2],[-219,-55,6,3],[-190,-48,3,3],[-170,-53,4,3],[-238,-28,2,1],[-214,-25,11,8,2],[-187,-30,6,4,5],[-225,5,4,4],[-200,-7,6,5],[-195,5,4,4],[-180,5,7,3],[-142,7,9,11,6],[-117,12,5,2],[-90,-1,4,2],[-76,14,9,5,2],[-124,25,4,4],[-165,20,3,3],[-190,26,6,4],[-247,19,4,4],[-229,50,5,7],[-246,59,4,4],[-205,39,7,1],[-199,58,7,11,2],[-147,36,4,3],[-102,36,9,4,5],[-63,46,3,1],[-96,51,2,2],[-147,65,7,3],[-169,76,5,5,5],[-197,78,2,3],[-49,62,7,7],[-27,59,6,4],[14,59,11,5,2],[-36,85,2,2],[-117,85,5,4],[-181,101,16,4],[-243,98,4,3],[-233,93,4,2],[-208,99,3,3],[-129,99,4,2],[-99,104,7,4],[-80,104,8,4],[-150,107,3,4],[-236,122,13,6,3],[-185,125,3,2],[-166,117,6,4],[-138,118,9,5],[-150,131,3,4],[-87,125,6,4],[-63,121,5,6],[-25,124,3,4],[3,124,4,3],[40,102,4,5],[14,112,3,2],[33,119,9,4],[77,118,4,5],[74,107,4,3],[67,100,11,11,2],[10,92,2,2],[43,73,4,4],[26,79,3,3],[65,71,7,4],[70,54,5,4],[90,53,9,9,2],[111,40,8,6],[90,65,5,1],[110,86,5,5],[88,98,11,9,6],
[16,5,5,5],[36,7,4,4],[30,19,5,3],[56,19,2,2],[74,20,6,6,5],[10,33,4,3],[77,34,3,3],[46,40,5,8,2],[-25,42,4,4],[-11,45,5,4],[-36,46,3,2],[-28,24,5,6],[-3,-8,2,2],
[125,-1,4,2],[135,-1,2,2],[135,-14,2,2],[153,-2,4,2],[205,0,4,4],[247,-1,5,5],[225,7,16,6,5],[170,5,4,4],[183,12,6,4],[153,13,6,2],[130,19,5,3],[166,23,4,4],[205,26,7,3],[247,26,9,6,2],[131,39,3,2],[171,52,4,3],[208,46,5,5],[229,58,14,8,6],[247,54,5,4],[197,58,4,3],[184,65,4,4],[163,65,4,4],[134,69,7,6],[204,73,3,3],[217,69,3,5],[155,77,6,4],[130,82,4,4],[183,84,10,3],[210,86,2,2],[145,95,8,6],[127,95,3,3],[163,100,4,4],[171,107,5,6,2],[198,93,2,2],[234,98,8,4],[251,90,4,2],[226,115,8,6,5],[186,122,7,5],[134,124,6,3],[244,124,3,2],[162,131,9,1],[220,135,8,4],
[141,-392,14,6],[125,-374,6,6],[153,-367,14,7,6],[183,-367,16,7,3],[215,-379,6,6],[245,-364,10,7],[227,-367,5,4],[134,-346,14,6,2],[162,-343,7,10,2],[176,-346,6,8],[139,-329,6,5],[167,-327,6,6],[158,-325,5,6],[199,-331,7,11,6],[221,-319,10,11,6],[241,-315,14,13,6],[130,-309,6,4],[146,-309,7,4],[165,-309,10,4],[190,-311,9,5,2],[206,-300,5,8],[236,-295,7,4],[134,-283,14,5,3],[162,-278,7,15,6],[144,-273,3,3],[130,-267,7,4],[176,-265,9,7,2],[199,-280,4,4],[217,-267,2,2],[211,-278,4,2],[222,-283,5,4],[241,-259,6,4],[252,-273,3,3],[211,-257,9,6],[162,-254,9,4],[185,-247,7,4],[232,-244,7,4],[250,-243,4,3],[194,-227,6,6],[229,-224,9,5],[247,-235,3,5],[185,-234,4,4],[204,-213,2,2],[227,-205,5,4],[181,-221,7,4],[185,-203,11,9,6],[167,-190,9,7],[213,-183,6,6,2],[231,-185,8,5,5],[250,-190,5,5],[194,-177,6,4],[176,-161,8,4],[213,-161,4,2],[247,-157,10,6],[194,-143,6,8,2],[169,-132,5,10,2],[231,-141,3,3],[251,-139,3,3],[217,-121,9,6,3],[190,-128,2,2],[184,-108,4,4],[245,-97,4,6],[204,-86,2,2],[217,-76,10,4,3],[185,-81,3,2],[200,-66,3,5],[227,-57,7,6,2],[241,-64,4,4],[252,-55,4,3],[194,-54,7,4],[162,-35,2,1],[197,-33,8,6,2],[220,-40,5,4],[236,-28,6,6],[207,-14,7,3],[185,-19,4,4],
[-55,-379,9,9,6],[-39,-364,10,6,2],[-23,-391,6,4],[-11,-370,12,10,6],[12,-387,4,3],[10,-370,13,6,3],[28,-379,6,4],[60,-379,12,6,3],[60,-354,9,4],[-76,-364,5,5],[-79,-340,6,6],[-55,-327,7,10,2],[5,-340,14,8,6],[51,-335,14,7,3],[-69,-320,9,7],[-11,-318,18,6,3],[28,-322,10,8,2],[-78,-303,7,9],[-55,-296,14,8,3],[-23,-298,7,11,6],[5,-303,9,6],[37,-305,8,8,6],[63,-309,7,11,2],[-69,-278,11,8,6],[-41,-278,11,8,2],[-4,-276,13,7,3],[24,-283,10,7,2]];
// isolated spots of the 30-cycle panel: [x,z,w,h,fill]
const spotsD=[[-119,-349,3,3,"#b08020"],[-109,-315,5,11,"#ffffff"],[-119,-293,4,5,"#d0c020"],[-110,-235,5,4,"#d0c020"],[117,-272,4,4,"#c08820"]];

// contour-label placements: x, z, rotation
const labelsA=[[-191,-167,-12],[157,-189,85]];
const labelsB=[[-181,-145,-6],[170,-165,-38]];
const labelsC=[[-184,-199,-52],[174,-203,0]];
const labelsD=[[-170,-146,35],[162,-172,88]];

// level fills
const levelsA=["#0BFBDC","#14EC92","#00EA00","#92F000","#F0C010","#E08A20","#F01818"];
const levelsB=["#04FFD0","#12EC98","#22DF3C","#B0E818","#EFB820","#D97018","#C03018"];
const levelsC=["#10FFE0","#36F0A8","#80F078","#C8F020","#E8B010","#D85A10","#A81808"];
const levelsD=["#04FFE0","#14F098","#12E020","#B0F010","#F0C818","#C87018","#E82010"];
const rampStd=[[0,"#50B4EA"],[.04,"#30C8F2"],[.08,"#1EDCF8"],[.11,"#00FFFF"],[.3,"#00FF00"],[.53,"#FFFF00"],[.74,"#E09000"],[.88,"#DD5A10"],[1,"#FF0000"]];
const rampC=[[0,"#50B4EA"],[.03,"#30C8F2"],[.05,"#00FFFF"],[.19,"#00FFAA"],[.31,"#70FF70"],[.43,"#C8FF20"],[.55,"#FFFF00"],[.67,"#F0C000"],[.82,"#E06010"],[.92,"#E03010"],[1,"#FF0000"]];
const BG="#4EB9F0", GRAY="#808080", INK="#333333";

// panel layout (pixels)
const panels=[
 {L:197,R:1159,T:130,B:1124,xa:199,xb:309,xc:1152,za:201,zb:1050,cb:[1201.5,1236,-0.036,-1.75],cbt:cbTicksA,ramp:rampStd,levels:levelsA,solids:solidsA,region:regionA,holesP:holePolysA,flames:flamesA,speck:specklesA,labels:labelsA,xl:[677,1248],zl:[62,628],cap:[743,1337]},
 {L:1531,R:2482,T:130,B:1120,xa:1537,xb:1641.6,xc:2475,za:201,zb:1045,cb:[2526,2561,-0.037,-2.29],cbt:cbTicksB,ramp:rampStd,levels:levelsB,solids:solidsB,region:regionB,holesP:holePolysB,flames:flamesB,speck:specklesB,labels:labelsB,xl:[2006,1248],zl:[1390,624],cap:[2032,1337]},
 {L:204,R:1155,T:1394,B:2381,xa:205,xb:310,xc:1147,za:1463,zb:2309,cb:[1196,1231,0.068,-2.42],cbt:cbTicksC,ramp:rampC,levels:levelsC,solids:solidsC,region:regionC,holesP:holePolysC,flames:flamesC,speck:specklesC,labels:labelsC,xl:[679,2510],zl:[62,1885],cap:[743,2601]},
 {L:1532,R:2487,T:1394,B:2381,xa:1532,xb:1637,xc:2474,za:1463,zb:2309,cb:[2526,2561,-0.089,-2.484],cbt:cbTicksD,ramp:rampStd,levels:levelsD,solids:solidsD,region:regionD,holesP:holePolysD,flames:flamesD,speck:specklesD,labels:labelsD,spots:spotsD,xl:[2010,2510],zl:[1390,1885],cap:[2032,2601]}
];

const shapes=[
[-1,-.2,-.5,-.9,.3,-.6,1,-.8,.8,.3,1,.9,.1,.7,-.6,1],
[-1,.3,-.6,-.8,.6,-1,1,.1,.6,.9,-.4,.8],
[-1,.8,-.7,.1,-.1,-.3,.4,-1,1,-.8,.8,0,.3,.7,-.4,1],
[-1,-.7,-.2,-1,.4,-.5,1,.1,.9,1,.2,.8,-.3,1,-.6,.1],
[-1,.1,-.7,-.7,.1,-1,.8,-.6,1,.2,.5,.9,-.2,1,-.8,.7],
[-1,-.8,-.4,-.2,.3,-.5,1,-1,.9,.1,.4,1,-.3,.9,-.9,.3],
[-1,-.5,-.3,-.5,-.2,-1,.6,-.7,.5,-.2,1,.2,.6,.9,0,.5,-.6,1,-.5,.3]];
const pairsOf=f=>d3.range(0,f.length,2).map(i=>[f[i],f[i+1]]);
const fmt=v=>(v<0?"\u2013":"")+Math.abs(v);
const SERIF="'Liberation Serif',serif", SANS="'Liberation Sans',sans-serif";
const svg=d3.select("#c");
svg.append("rect").attr("width",2695).attr("height",2644).attr("fill","#fff");
svg.append("text").attr("x",163).attr("y",72).attr("font-family",SANS+",'Noto Sans CJK SC'").attr("font-size",58).attr("fill","#111").text("Unit\uFF1A mm");

panels.forEach((p,pi)=>{
 const x=d3.scaleLinear().domain([-250,-200,250]).range([p.xa,p.xb,p.xc]);
 const z=d3.scaleLinear().domain([-400,-350,100]).range([p.T,p.za,p.zb]);
 const g=svg.append("g");
 const cid="clip"+pi;
 g.append("clipPath").attr("id",cid).append("rect").attr("x",p.L).attr("y",p.T).attr("width",p.R-p.L).attr("height",p.B-p.T);
 const plot=g.append("g").attr("clip-path",`url(#${cid})`);
 plot.append("rect").attr("x",p.L).attr("y",p.T).attr("width",p.R-p.L).attr("height",p.B-p.T).attr("fill",BG);
 const line=d3.line().x(d=>x(d[0])).y(d=>z(d[1])).curve(d3.curveLinearClosed);
 const blob=(d,i)=>{const s=shapes[typeof d[4]==="number"?d[4]:i%7];
   return line(pairsOf(s).map(q=>[d[0]+q[0]*d[2],d[1]+q[1]*d[3]]));};
 const black="#0a0a0a";
 const outline=s=>s.attr("stroke",black).attr("stroke-width",1.7).attr("stroke-linejoin","round");
 plot.selectAll(".spk").data(p.speck).join("path").attr("d",blob).attr("fill",p.levels[0]).call(outline);
 plot.selectAll(".reg").data(p.region).join("path").attr("d",f=>line(pairsOf(f))).attr("fill",p.levels[0]).call(outline);
 plot.selectAll(".hp").data(p.holesP).join("path").attr("d",f=>line(pairsOf(f))).attr("fill",BG).call(outline);
 plot.selectAll(".flm").data(p.flames).join("path").attr("d",f=>line(pairsOf(f[1]))).attr("fill",f=>p.levels[f[0]]).call(outline);
 if(p.spots) plot.selectAll(".spot").data(p.spots).join("path").attr("d",(d,i)=>blob([d[0],d[1],d[2],d[3],4],i)).attr("fill",d=>d[4]).attr("stroke",black).attr("stroke-width",4);
 // thick converging contours at the nozzle corners, derived from each rod and block
 const nozzle=d3.line().x(d=>x(d[0])).y(d=>z(d[1]));
 p.solids.forEach(s=>{
  const t=s[5];
  plot.append("path").attr("d",nozzle([[s[0]-2.5,t-14],[s[0]-2.5,t-6],[s[0]-7,t-1],[s[0]-13,t-1]])).attr("fill","none").attr("stroke",black).attr("stroke-width",3.2);
  plot.append("path").attr("d",nozzle([[s[1]+2.5,t-14],[s[1]+2.5,t-6],[s[1]+7,t-1],[s[1]+13,t-1]])).attr("fill","none").attr("stroke",black).attr("stroke-width",3.2);
  plot.append("rect").attr("x",x(s[0])).attr("width",x(s[1])-x(s[0])).attr("y",z(s[2])).attr("height",z(s[5])-z(s[2])).attr("fill",GRAY);
  plot.append("rect").attr("x",x(s[3])).attr("width",x(s[4])-x(s[3])).attr("y",z(s[5])).attr("height",z(s[6])-z(s[5])).attr("fill",GRAY);
 });
 plot.selectAll(".lab").data(p.labels).join("text")
   .attr("transform",d=>`translate(${x(d[0])},${z(d[1])}) rotate(${d[2]})`)
   .attr("text-anchor","middle").attr("dy","0.35em").attr("font-family",SANS).attr("font-size",46).attr("fill","#0a0a0a").attr("stroke","#0a0a0a").attr("stroke-width",.7).text("\u22120.01");
 g.append("rect").attr("x",p.L).attr("y",p.T).attr("width",p.R-p.L).attr("height",p.B-p.T).attr("fill","none").attr("stroke","#444").attr("stroke-width",2);
 // axes
 const xMinor=d3.range(-250,256,5).filter(v=>x(v)<=p.R);
 const zMinor=d3.range(-400,136,5).filter(v=>z(v)<=p.B);
 const style=a=>{a.select(".domain").remove();a.selectAll("line").attr("stroke","#444").attr("stroke-width",1.8);
   a.selectAll("text").attr("font-family",SERIF).attr("font-size",47).attr("fill",INK);return a;};
 const add=(ax,tx,ty)=>style(g.append("g").attr("transform",`translate(${tx},${ty})`).call(ax));
 add(d3.axisBottom(x).tickValues(xMinor).tickSize(6).tickFormat(""),0,p.B);
 add(d3.axisTop(x).tickValues(xMinor).tickSize(6).tickFormat(""),0,p.T);
 add(d3.axisLeft(z).tickValues(zMinor).tickSize(6).tickFormat(""),p.L,0);
 add(d3.axisRight(z).tickValues(zMinor).tickSize(6).tickFormat(""),p.R,0);
 add(d3.axisBottom(x).tickValues(xTicks).tickSize(11).tickPadding(24).tickFormat(fmt),0,p.B);
 add(d3.axisTop(x).tickValues(xTicks).tickSize(11).tickFormat(""),0,p.T);
 add(d3.axisLeft(z).tickValues(zTicks).tickSize(11).tickPadding(11).tickFormat(fmt),p.L,0);
 add(d3.axisRight(z).tickValues(zTicks).tickSize(11).tickFormat(""),p.R,0);
 // axis titles
 g.append("text").attr("x",p.xl[0]).attr("y",p.xl[1]).attr("text-anchor","middle").attr("font-family",SERIF).attr("font-size",47).attr("fill",INK).text("x");
 g.append("text").attr("transform",`translate(${p.zl[0]+12},${p.zl[1]}) rotate(-90)`).attr("text-anchor","middle").attr("font-family",SERIF).attr("font-size",47).attr("fill",INK).text("z");
 // colorbar
 const [c0,c1,vT,vB]=p.cb;
 const cs=d3.scaleLinear().domain([vT,vB]).range([p.T,p.B]);
 const ramp=d3.scaleLinear().domain(p.ramp.map(d=>d[0])).range(p.ramp.map(d=>d[1]));
 const nb=d3.range(48);
 g.selectAll(".band").data(nb).join("rect").attr("x",c0).attr("width",c1-c0)
   .attr("y",i=>p.T+(p.B-p.T)*i/48).attr("height",(p.B-p.T)/48+.6).attr("fill",i=>ramp((i+.5)/48));
 g.append("rect").attr("x",c0).attr("width",c1-c0).attr("y",p.T).attr("height",p.B-p.T).attr("fill","none").attr("stroke","#333").attr("stroke-width",1);
 const ca=g.append("g").attr("transform",`translate(${c1},0)`).call(d3.axisRight(cs).tickValues(p.cbt).tickSize(-10).tickPadding(1).tickFormat(fmt));
 ca.select(".domain").remove();ca.selectAll("line").attr("stroke","#333").attr("stroke-width",1);
 ca.selectAll("text").attr("font-family",SERIF).attr("font-size",47).attr("fill",INK);
 // caption
 const t=g.append("text").attr("x",p.cap[0]).attr("y",p.cap[1]).attr("text-anchor","middle").attr("font-family",SANS).attr("font-size",80).attr("fill","#111");
 t.append("tspan").attr("font-weight","bold").text(captions[pi][0]);
 t.append("tspan").text(captions[pi][1]);
});
</script></body></html>
